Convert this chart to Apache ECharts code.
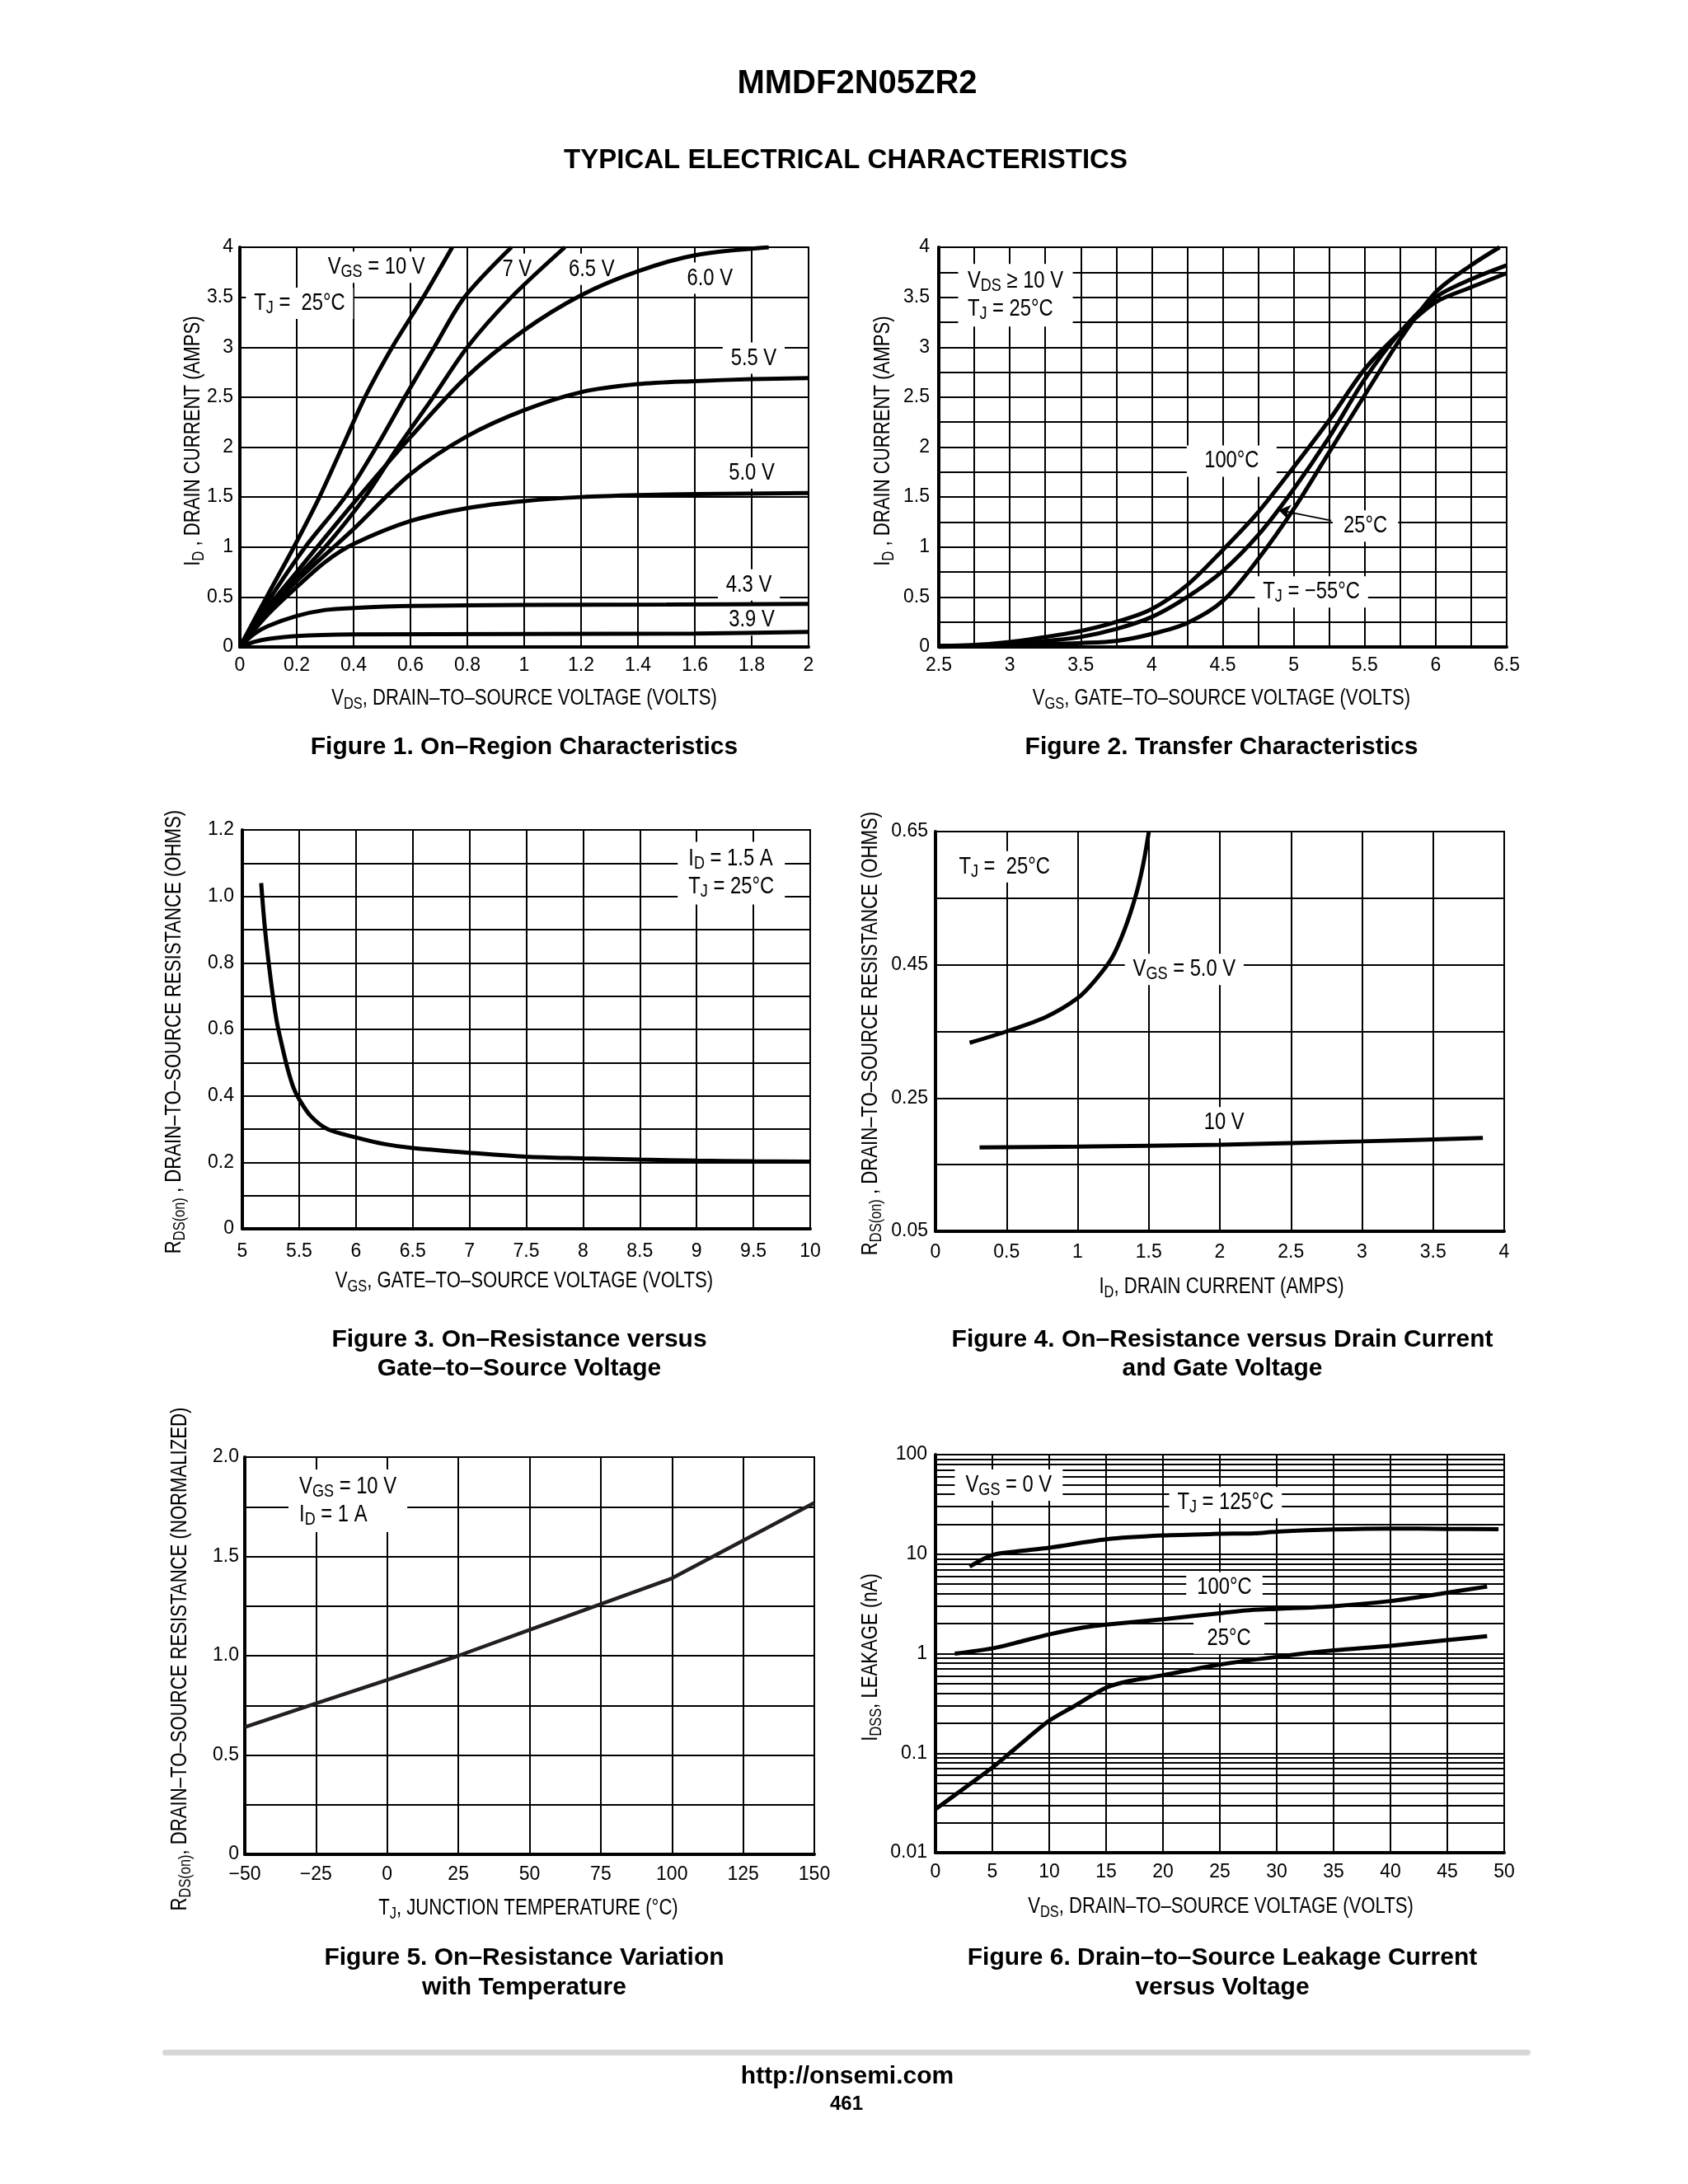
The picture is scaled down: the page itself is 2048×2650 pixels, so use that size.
<!DOCTYPE html>
<html><head><meta charset="utf-8">
<script src="https://cdn.jsdelivr.net/npm/echarts@6/dist/echarts.min.js"></script>
<style>html,body{margin:0;padding:0;background:#fff}#c{width:2048px;height:2650px}</style>
</head><body><div id="c"></div>
<script>
// ================= DATA =================
// Figure 1: ID vs VDS for several VGS (TJ = 25C)
const f1_vgs10 = [[0,0],[0.1,0.53],[0.19,1.0],[0.28,1.5],[0.36,2.0],[0.44,2.5],[0.536,3.0],[0.645,3.5],[0.747,4.0]];
const f1_vgs7  = [[0,0],[0.1,0.46],[0.23,1.0],[0.37,1.5],[0.48,2.0],[0.58,2.5],[0.684,3.0],[0.79,3.5],[0.955,4.0]];
const f1_vgs65 = [[0,0],[0.12,0.45],[0.3,1.0],[0.44,1.5],[0.556,2.0],[0.68,2.5],[0.8,3.0],[0.955,3.5],[1.143,4.0]];
const f1_vgs60 = [[0,0],[0.1,0.4],[0.2,0.75],[0.4,1.44],[0.6,2.1],[0.8,2.71],[1.0,3.17],[1.2,3.52],[1.4,3.76],[1.6,3.92],[1.86,4.0]];
const f1_vgs55 = [[0,0],[0.1,0.36],[0.2,0.66],[0.4,1.18],[0.6,1.73],[0.8,2.11],[1.0,2.37],[1.2,2.55],[1.4,2.63],[1.6,2.66],[1.8,2.68],[2.0,2.69]];
const f1_vgs50 = [[0,0],[0.1,0.33],[0.2,0.6],[0.3,0.85],[0.4,1.03],[0.6,1.26],[0.8,1.39],[1.0,1.46],[1.2,1.5],[1.4,1.52],[1.6,1.53],[2.0,1.54]];
const f1_vgs43 = [[0,0],[0.05,0.13],[0.1,0.21],[0.2,0.31],[0.3,0.37],[0.4,0.39],[0.6,0.41],[1.0,0.42],[1.5,0.425],[2.0,0.43]];
const f1_vgs39 = [[0,0],[0.05,0.05],[0.1,0.08],[0.2,0.11],[0.4,0.125],[1.0,0.13],[1.6,0.135],[2.0,0.15]];

// Figure 2: transfer characteristics
const f2_t100 = [[2.5,0.01],[2.75,0.02],[3.0,0.05],[3.25,0.1],[3.5,0.16],[3.75,0.25],[4.0,0.38],[4.25,0.62],[4.5,0.97],[4.75,1.35],[5.0,1.8],[5.25,2.27],[5.5,2.78],[5.75,3.15],[6.0,3.45],[6.25,3.6],[6.5,3.74]];
const f2_t25  = [[2.5,0.01],[2.75,0.015],[3.0,0.03],[3.25,0.06],[3.5,0.1],[3.75,0.18],[4.0,0.3],[4.25,0.5],[4.5,0.76],[4.75,1.12],[5.0,1.58],[5.25,2.1],[5.5,2.68],[5.75,3.15],[6.0,3.5],[6.25,3.68],[6.5,3.82]];
const f2_tm55 = [[2.5,0.0],[2.75,0.01],[3.0,0.02],[3.25,0.03],[3.5,0.04],[3.75,0.06],[4.0,0.13],[4.25,0.24],[4.5,0.46],[4.75,0.88],[5.0,1.38],[5.25,1.95],[5.5,2.52],[5.75,3.08],[6.0,3.55],[6.25,3.82],[6.45,4.0]];

// Figure 3: RDS(on) vs VGS
const f3_rds = [[5.166,1.04],[5.2,0.9],[5.25,0.75],[5.3,0.63],[5.35,0.55],[5.4,0.48],[5.45,0.425],[5.5,0.39],[5.6,0.34],[5.75,0.30],[6.0,0.275],[6.25,0.255],[6.5,0.243],[7.0,0.229],[7.5,0.217],[8.0,0.212],[8.5,0.208],[9.0,0.205],[9.5,0.203],[10,0.202]];

// Figure 4: RDS(on) vs ID
const f4_vgs5  = [[0.24,0.333],[0.5,0.35],[0.78,0.372],[1.0,0.40],[1.12,0.426],[1.24,0.46],[1.33,0.503],[1.41,0.555],[1.46,0.60],[1.5,0.649]];
const f4_vgs10 = [[0.31,0.176],[1.0,0.177],[2.0,0.18],[3.0,0.185],[3.85,0.19]];

// Figure 5: normalized RDS(on) vs TJ
const f5_rds = [[-50,0.641],[-25,0.76],[0,0.878],[25,1.0],[50,1.13],[75,1.26],[100,1.39],[125,1.58],[150,1.77]];

// Figure 6: IDSS vs VDS
const f6_t125 = [[3,7.5],[5,9.8],[7,10.6],[10,11.6],[15,14.1],[20,15.4],[25,16.0],[28,16.2],[30,16.8],[35,17.7],[40,18.1],[45,17.9],[49.5,17.8]];
const f6_t100 = [[1.7,1.0],[5,1.13],[7,1.28],[10,1.56],[13,1.83],[15,1.96],[20,2.22],[25,2.55],[28,2.76],[30,2.82],[35,3.0],[40,3.38],[45,4.1],[48.5,4.72]];
const f6_t25  = [[0,0.0273],[3,0.0487],[5,0.0718],[7,0.111],[10,0.212],[12,0.288],[15,0.455],[17,0.53],[20,0.608],[25,0.778],[30,0.929],[35,1.077],[40,1.2],[45,1.37],[48.5,1.5]];
// log minor grid values for Figure 6
const f6_decades = [0.01, 0.1, 1, 10];
const f6_mult = [2,3,4,5,6,7,8,9];

// ================= TEXT =================
const axisNamesX = [
  '{t|V}{s|DS}{t|, DRAIN–TO–SOURCE VOLTAGE (VOLTS)}',
  '{t|V}{s|GS}{t|, GATE–TO–SOURCE VOLTAGE (VOLTS)}',
  '{t|V}{s|GS}{t|, GATE–TO–SOURCE VOLTAGE (VOLTS)}',
  '{t|I}{s|D}{t|, DRAIN CURRENT (AMPS)}',
  '{t|T}{s|J}{t|, JUNCTION TEMPERATURE (°C)}',
  '{t|V}{s|DS}{t|, DRAIN–TO–SOURCE VOLTAGE (VOLTS)}'
];
const axisNamesY = [
  '{t|I}{s|D}{t| , DRAIN CURRENT (AMPS)}',
  '{t|I}{s|D}{t| , DRAIN CURRENT (AMPS)}',
  '{t|R}{s|DS(on)}{t| , DRAIN–TO–SOURCE RESISTANCE (OHMS)}',
  '{t|R}{s|DS(on)}{t| , DRAIN–TO–SOURCE RESISTANCE (OHMS)}',
  '{t|R}{s|DS(on)}{t|, DRAIN–TO–SOURCE RESISTANCE (NORMALIZED)}',
  '{t|I}{s|DSS}{t|, LEAKAGE (nA)}'
];

// ================= ANNOTATIONS (data coordinates) =================
const f1Notes = [
  {x:0.48, y:3.8, text:'{t|V}{s|GS}{t| = 10 V}'},
  {x:0.21, y:3.44, text:'{t|T}{s|J}{t| =  25°C}'},
  {x:0.975, y:3.78, text:'{t|7 V}', pad:[2,4]},
  {x:1.237, y:3.78, text:'{t|6.5 V}', pad:[2,6]},
  {x:1.653, y:3.69, text:'{t|6.0 V}'},
  {x:1.807, y:2.89, text:'{t|5.5 V}'},
  {x:1.8, y:1.74, text:'{t|5.0 V}'},
  {x:1.79, y:0.62, text:'{t|4.3 V}'},
  {x:1.8, y:0.27, text:'{t|3.9 V}'}
];
const f2Notes = [
  {x:3.04, y:3.52, text:'{t|V}{s|DS}{t| ≥ 10 V}\n{t|T}{s|J}{t| = 25°C}', pad:[4,14]},
  {x:4.563, y:1.86, text:'{t|100°C}', pad:[2,26]},
  {x:5.505, y:1.21, text:'{t|25°C}', pad:[2,16]},
  {x:5.125, y:0.55, text:'{t|T}{s|J}{t| = −55°C}'}
];
const f2Arrow = [[5.264,1.265],[4.894,1.37]];
const f3Notes = [{x:9.305, y:1.07, text:'{t|I}{s|D}{t| = 1.5 A}\n{t|T}{s|J}{t| = 25°C}', pad:[4,16]}];
const f4Notes = [
  {x:0.485, y:0.597, text:'{t|T}{s|J}{t| =  25°C}'},
  {x:1.75, y:0.443, text:'{t|V}{s|GS}{t| = 5.0 V}'},
  {x:2.03, y:0.213, text:'{t|10 V}'}
];
const f5Notes = [{x:-13.8, y:1.78, text:'{t|V}{s|GS}{t| = 10 V}\n{t|I}{s|D}{t| = 1 A}', pad:[4,16]}];
const f6Notes = [
  {x:6.44, y:49.5, text:'{t|V}{s|GS}{t| = 0 V}', pad:[2,16]},
  {x:25.5, y:33, text:'{t|T}{s|J}{t| = 125°C}'},
  {x:25.4, y:4.6, text:'{t|100°C}', pad:[2,16]},
  {x:25.8, y:1.43, text:'{t|25°C}', pad:[2,20]}
];

// ================= STYLE / LAYOUT =================
const SANS = "'Liberation Sans',Arial,Helvetica,sans-serif";
const SX = 0.82; // horizontal condensing of the narrow label face
const NOTE_RICH = {
  t: {fontFamily: SANS, fontSize: 29, color: '#000', lineHeight: 34, align: 'left'},
  s: {fontFamily: SANS, fontSize: 22, color: '#000', lineHeight: 22, verticalAlign: 'bottom', align: 'left'}
};
const NAME_RICH = {
  t: {fontFamily: SANS, fontSize: 27, color: '#000', lineHeight: 33},
  s: {fontFamily: SANS, fontSize: 20, color: '#000', lineHeight: 20, verticalAlign: 'bottom'}
};
const GRIDS = [
  {left:291, top:300, width:690, height:485},
  {left:1139, top:300, width:689, height:485},
  {left:294, top:1007, width:689, height:484},
  {left:1135, top:1009, width:690, height:485},
  {left:297, top:1768, width:691, height:482},
  {left:1135, top:1765, width:690, height:483}
];
// axis-name centres (page pixels)
const NAME_X_POS = [[636,848],[1482,848],[636,1555],[1482,1562],[641,2316],[1481,2314]];
const NAME_Y_POS = [[235,535],[1072,535],[212,1252],[1057,1254],[219,2013],[1057,2011]];

function axis(gi, o) {
  return {
    gridIndex: gi, type: o.type || 'value', min: o.min, max: o.max, interval: o.interval,
    logBase: o.logBase, splitNumber: o.splitNumber,
    axisLine: {show: true, onZero: false, lineStyle: {color: '#000', width: 4}},
    axisTick: {show: false},
    splitLine: {show: true, lineStyle: {color: '#000', width: 2}},
    axisLabel: {color: '#000', fontFamily: SANS, fontSize: 23, margin: o.margin, formatter: o.formatter,
                showMinLabel: true, showMaxLabel: true, hideOverlap: false},
    silent: true
  };
}
function curve(gi, data, extra) {
  return Object.assign({type: 'line', xAxisIndex: gi, yAxisIndex: gi, data: data, symbol: 'none', showSymbol: false,
    smooth: 0.3, lineStyle: {color: '#000', width: 5}, z: 3, silent: true, animation: false}, extra || {});
}
function even(step, digits, zeroPlain) {
  return function (v, base) {
    const k = Math.round((v - base) / step);
    if (k % 2 !== 0) return '';
    if (v === 0 && zeroPlain) return '0';
    return digits == null ? String(+v.toFixed(3)) : v.toFixed(digits);
  };
}
function txt(t, x, y, font) {
  return {type: 'text', x: x, y: y, silent: true, z: 10,
    style: {text: t, font: font, fill: '#000', align: 'center', verticalAlign: 'middle'}};
}

const f6Minor = [];
f6_decades.forEach(function (d) { f6_mult.forEach(function (m) { f6Minor.push(+(d * m).toPrecision(3)); }); });
const f3y = even(0.1, 1, true), f4y = even(0.1, 2, false), f5y = even(0.25, 1, true), f2y = even(0.25, null, true);

const option = {
  animation: false,
  backgroundColor: '#fff',
  grid: GRIDS.map(function (g) { return Object.assign({show: true, borderColor: '#000', borderWidth: 2, containLabel: false, outerBoundsMode: 'none'}, g); }),
  xAxis: [
    axis(0, {min: 0, max: 2, interval: 0.2, margin: 11}),
    axis(1, {min: 2.5, max: 6.5, interval: 0.25, margin: 11, formatter: function (v) { return even(0.25, null, true)(v, 2.5); }}),
    axis(2, {min: 5, max: 10, interval: 0.5, margin: 16}),
    axis(3, {min: 0, max: 4, interval: 0.5, margin: 14}),
    axis(4, {min: -50, max: 150, interval: 25, margin: 13, formatter: function (v) { return String(v).replace('-', '−'); }}),
    axis(5, {min: 0, max: 50, interval: 5, margin: 12})
  ],
  yAxis: [
    axis(0, {min: 0, max: 4, interval: 0.5, margin: 8}),
    axis(1, {min: 0, max: 4, interval: 0.25, margin: 11, formatter: function (v) { return f2y(v, 0); }}),
    axis(2, {min: 0, max: 1.2, interval: 0.1, margin: 10, formatter: function (v) { return f3y(v, 0); }}),
    axis(3, {min: 0.05, max: 0.65, interval: 0.1, margin: 9, formatter: function (v) { return f4y(v, 0.05); }}),
    axis(4, {min: 0, max: 2, interval: 0.25, margin: 7, formatter: function (v) { return f5y(v, 0); }}),
    axis(5, {type: 'log', logBase: 10, min: 0.01, max: 100, splitNumber: 4, margin: 10,
      formatter: function (v) { return String(parseFloat((+v).toPrecision(2))); }})
  ],
  series: [
    curve(0, f1_vgs10), curve(0, f1_vgs7), curve(0, f1_vgs65), curve(0, f1_vgs60),
    curve(0, f1_vgs55), curve(0, f1_vgs50), curve(0, f1_vgs43), curve(0, f1_vgs39),
    curve(1, f2_t100), curve(1, f2_tm55),
    curve(1, f2_t25, {markLine: {silent: true, animation: false, z: 4, symbol: ['none', 'arrow'], symbolSize: 14,
      label: {show: false}, lineStyle: {color: '#000', width: 2, type: 'solid'},
      data: [[{coord: f2Arrow[0]}, {coord: f2Arrow[1]}]]}}),
    curve(2, f3_rds),
    curve(3, f4_vgs5), curve(3, f4_vgs10),
    curve(4, f5_rds, {smooth: false, lineStyle: {color: '#231f20', width: 4.5}}),
    {type: 'line', xAxisIndex: 5, yAxisIndex: 5, data: [], z: 1, silent: true, animation: false,
      markLine: {silent: true, animation: false, z: 1, symbol: ['none', 'none'], label: {show: false},
        lineStyle: {color: '#000', width: 2, type: 'solid'},
        data: f6Minor.map(function (v) { return {yAxis: v}; })}},
    curve(5, f6_t125), curve(5, f6_t100), curve(5, f6_t25)
  ]
};

const chart = echarts.init(document.getElementById('c'), null, {renderer: 'canvas', width: 2048, height: 2650});
chart.setOption(option);

// ---- text layer: titles, captions, axis names, in-plot notes (notes placed via the chart's own scales) ----
const graphics = [
  txt('MMDF2N05ZR2', 1040, 102, 'bold 40px ' + SANS),
  txt('TYPICAL ELECTRICAL CHARACTERISTICS', 1026, 195, 'bold 33px ' + SANS),
  txt('Figure 1. On–Region Characteristics', 636, 907, 'bold 30px ' + SANS),
  txt('Figure 2. Transfer Characteristics', 1482, 907, 'bold 30px ' + SANS),
  txt('Figure 3. On–Resistance versus', 630, 1626, 'bold 30px ' + SANS),
  txt('Gate–to–Source Voltage', 630, 1661, 'bold 30px ' + SANS),
  txt('Figure 4. On–Resistance versus Drain Current', 1483, 1626, 'bold 30px ' + SANS),
  txt('and Gate Voltage', 1483, 1661, 'bold 30px ' + SANS),
  txt('Figure 5. On–Resistance Variation', 636, 2376, 'bold 30px ' + SANS),
  txt('with Temperature', 636, 2412, 'bold 30px ' + SANS),
  txt('Figure 6. Drain–to–Source Leakage Current', 1483, 2376, 'bold 30px ' + SANS),
  txt('versus Voltage', 1483, 2412, 'bold 30px ' + SANS),
  {type: 'rect', shape: {x: 197, y: 2487, width: 1660, height: 7, r: 3.5}, style: {fill: '#d7d7d9'}, silent: true},
  txt('http://onsemi.com', 1028, 2520, 'bold 30px ' + SANS),
  txt('461', 1027, 2553, 'bold 24px ' + SANS)
];
axisNamesX.forEach(function (t, i) {
  graphics.push({type: 'text', x: NAME_X_POS[i][0], y: NAME_X_POS[i][1], scaleX: SX, silent: true, z: 10,
    style: {text: t, rich: NAME_RICH, align: 'center', verticalAlign: 'middle'}});
});
axisNamesY.forEach(function (t, i) {
  graphics.push({type: 'text', x: NAME_Y_POS[i][0], y: NAME_Y_POS[i][1], scaleX: SX, rotation: Math.PI / 2, silent: true, z: 10,
    style: {text: t, rich: NAME_RICH, align: 'center', verticalAlign: 'middle'}});
});
[f1Notes, f2Notes, f3Notes, f4Notes, f5Notes, f6Notes].forEach(function (list, gi) {
  list.forEach(function (it) {
    const p = chart.convertToPixel({gridIndex: gi}, [it.x, it.y]);
    graphics.push({type: 'text', x: p[0], y: p[1], scaleX: SX, silent: true, z: 2,
      style: {text: it.text, rich: NOTE_RICH, align: 'center', verticalAlign: 'middle',
        backgroundColor: '#fff', padding: it.pad || [2, 12]}});
  });
});
chart.setOption({graphic: graphics});
</script>
</body></html>
